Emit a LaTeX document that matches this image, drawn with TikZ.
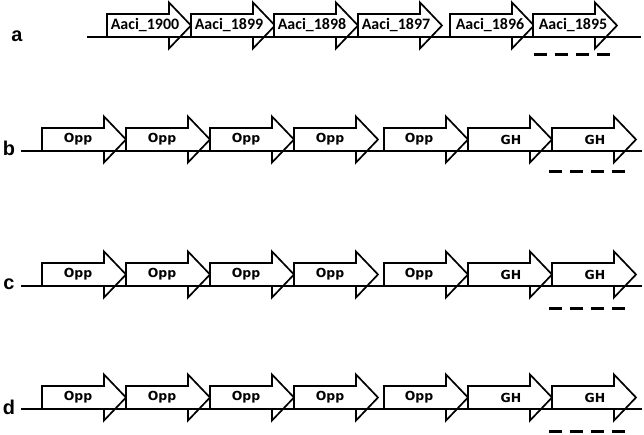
\documentclass[tikz,border=0pt]{standalone}
\usepackage{fontspec}
\setmainfont{DejaVu Sans}
\newfontfamily\carlito{Carlito}
\newfontfamily\arialfont{Liberation Sans}
\usepackage{tikz}
\usetikzlibrary{shapes,arrows}

\tikzset{
  genebox/.style={fill=white, draw=black, line width=1.7bp, line join=miter},
  chromline/.style={line width=2.8bp},
  dashmark/.style={line width=3bp, dash pattern=on 13bp off 8bp},
  rowlabel/.style={font=\arialfont\fontsize{20}{20}\selectfont\bfseries, inner sep=0pt},
  aacitext/.style={font=\carlito\fontsize{16}{16}\selectfont\bfseries, inner sep=0pt},
  opptext/.style={font=\fontsize{12.5}{12.5}\selectfont\bfseries, inner sep=0pt},
}

% #1 name, #2 left x, #3 line y, #4 text offset, #5 text, #6 text style
\newcommand{\genearrow}[6]{%
  \filldraw[genebox] (#2,#3) -- ++(0,-23) -- ++(62,0) -- ++(0,-11.5) -- ++(22,23)
    -- ++(-22,23) -- ++(0,-11.5) -- cycle;
  \node[#6] (#1) at (#2+#4,#3-11.5) {#5};
}

\begin{document}
\begin{tikzpicture}[x=1bp,y=-1bp]
\useasboundingbox (0,0) rectangle (644,435);

\node[rowlabel] (la) at (17,36) {a};
\genearrow{a1900}{107}{37}{38}{Aaci\_1900}{aacitext}
\genearrow{a1899}{191}{37}{38}{Aaci\_1899}{aacitext}
\genearrow{a1898}{274}{37}{38}{Aaci\_1898}{aacitext}
\genearrow{a1897}{358}{37}{38}{Aaci\_1897}{aacitext}
\genearrow{a1896}{450}{37}{40}{Aaci\_1896}{aacitext}
\genearrow{a1895}{533}{37}{40}{Aaci\_1895}{aacitext}
\draw[chromline] (87,37) -- (641,37);
\draw[dashmark] (534,55) -- (612,55);

\node[rowlabel] (lb) at (9,148) {b};
\genearrow{b1}{42}{151}{36}{Opp}{opptext}
\genearrow{b2}{126}{151}{36}{Opp}{opptext}
\genearrow{b3}{210}{151}{36}{Opp}{opptext}
\genearrow{b4}{294}{151}{36}{Opp}{opptext}
\genearrow{b5}{384}{151}{35}{Opp}{opptext}
\genearrow{b6}{468}{151}{43}{GH}{opptext}
\genearrow{b7}{552}{151}{43}{GH}{opptext}
\draw[chromline] (21,151) -- (642,151);
\draw[dashmark] (549,172) -- (627,172);

\node[rowlabel] (lc) at (9,284) {c};
\genearrow{c1}{42}{286}{36}{Opp}{opptext}
\genearrow{c2}{126}{286}{36}{Opp}{opptext}
\genearrow{c3}{210}{286}{36}{Opp}{opptext}
\genearrow{c4}{294}{286}{36}{Opp}{opptext}
\genearrow{c5}{384}{286}{35}{Opp}{opptext}
\genearrow{c6}{468}{286}{43}{GH}{opptext}
\genearrow{c7}{552}{286}{43}{GH}{opptext}
\draw[chromline] (21,286) -- (642,286);
\draw[dashmark] (549,308) -- (627,308);

\node[rowlabel] (ld) at (9,407) {d};
\genearrow{d1}{42}{409}{36}{Opp}{opptext}
\genearrow{d2}{126}{409}{36}{Opp}{opptext}
\genearrow{d3}{210}{409}{36}{Opp}{opptext}
\genearrow{d4}{294}{409}{36}{Opp}{opptext}
\genearrow{d5}{384}{409}{35}{Opp}{opptext}
\genearrow{d6}{468}{409}{43}{GH}{opptext}
\genearrow{d7}{552}{409}{43}{GH}{opptext}
\draw[chromline] (21,409) -- (642,409);
\draw[dashmark] (549,431) -- (627,431);

\end{tikzpicture}
\end{document}
